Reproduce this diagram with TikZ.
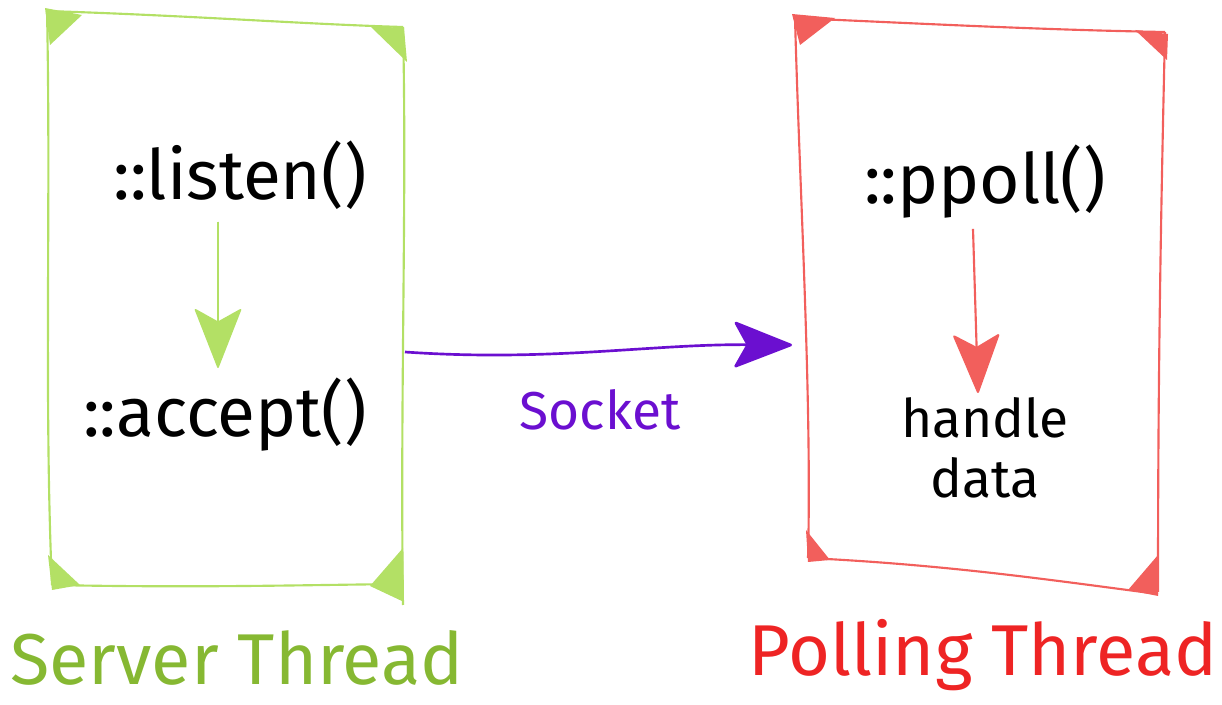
\documentclass[tikz,border=0pt]{standalone}
\usepackage{fontspec}
\setmainfont{Fira Sans}
\usetikzlibrary{arrows.meta}
\definecolor{gbox}{HTML}{B3E065}
\definecolor{gtext}{HTML}{86B832}
\definecolor{rbox}{HTML}{F25F5C}
\definecolor{rtext}{HTML}{EE2424}
\definecolor{purp}{HTML}{6B0FD0}
\tikzset{
  lbl/.style={inner sep=0pt, font=\fontsize{52}{60}\selectfont},
  small/.style={inner sep=0pt, align=center, font=\fontsize{40}{45}\selectfont},
  title/.style={inner sep=0pt, font=\fontsize{54}{60}\selectfont},
  bighead/.style={arrows={-{Stealth[length=46pt, width=36pt, inset=10pt, round]}}},
}
\begin{document}
\begin{tikzpicture}[x=0.75pt, y=-0.75pt]
\useasboundingbox (0,0) rectangle (1222,705);
\coordinate (gE) at (405,352);
\coordinate (rW) at (792,345);
% green sketch box
\begin{scope}[draw=gbox, line width=1.6pt]
\draw (47,11) .. controls (200,16) and (300,24) .. (403,27);
\draw (403,27) .. controls (407,200) and (400,400) .. (403,605);
\draw (52,585) .. controls (200,588) and (300,585) .. (403,584);
\draw (47,11) .. controls (51,200) and (44,400) .. (52,585);
\fill[gbox] (45,8) -- (82,15) -- (50,45) -- cycle;
\fill[gbox] (370,26) -- (404,28) -- (407,62) -- cycle;
\fill[gbox] (48,555) -- (80,585) -- (52,590) -- cycle;
\fill[gbox] (403,548) -- (404,602) -- (370,586) -- cycle;
\end{scope}
% red sketch box
\begin{scope}[draw=rbox, line width=1.6pt]
\draw (795,18) .. controls (950,25) and (1050,30) .. (1165,32);
\draw (1165,32) .. controls (1160,250) and (1158,400) .. (1158,592);
\draw (808,558) .. controls (950,565) and (1050,580) .. (1158,594);
\draw (795,18) .. controls (800,200) and (812,400) .. (808,558);
\fill[rbox] (792,14) -- (835,18) -- (800,45) -- cycle;
\fill[rbox] (1135,30) -- (1168,34) -- (1167,60) -- cycle;
\fill[rbox] (806,530) -- (830,560) -- (808,562) -- cycle;
\fill[rbox] (1158,555) -- (1158,596) -- (1128,590) -- cycle;
\end{scope}
% texts
\node[lbl] (listen) at (240,175) {::listen()};
\node[lbl] (accept) at (225,415) {::accept()};
\node[lbl] (ppoll) at (985,182) {::ppoll()};
\node[small] (handle) at (985,448) {handle\\data};
\node[small, text=purp] (socket) at (600,410) {Socket};
\node[title, text=gtext] (sthread) at (237,658) {Server Thread};
\node[title, text=rtext] (pthread) at (983,655) {Polling Thread};
% arrows
\draw[gbox, fill=gbox, line width=1.2pt, bighead] (listen.south) ++(-22,12) coordinate (la) -- (218,368) coordinate (lb);
\draw[rbox, fill=rbox, line width=1.6pt, bighead] (ppoll.south) ++(-12,10) coordinate (pa) -- (978,393) coordinate (pb);
\draw[purp, line width=2pt, bighead] (gE) .. controls (550,362) and (650,344) .. (rW);
\end{tikzpicture}
\end{document}
